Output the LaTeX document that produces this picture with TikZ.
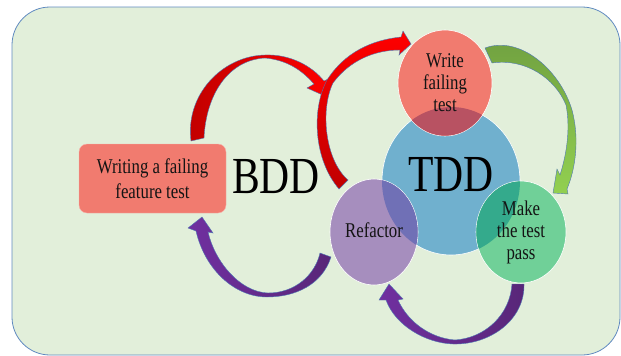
\documentclass[tikz,border=0pt]{standalone}
\usepackage{fontspec}
\setmainfont{Liberation Serif}[FakeStretch=0.8]
\usetikzlibrary{shapes.geometric}
\definecolor{bgfill}{RGB}{226,239,218}
\definecolor{bgline}{RGB}{96,138,192}
\definecolor{salmon}{RGB}{241,123,111}
\definecolor{tddblue}{RGB}{112,176,206}
\definecolor{refpurple}{RGB}{166,142,190}
\definecolor{passgreen}{RGB}{112,208,152}
\definecolor{redblue}{RGB}{184,82,98}
\definecolor{purpleblue}{RGB}{112,112,182}
\definecolor{greenblue}{RGB}{52,170,140}
\definecolor{arrowline}{RGB}{80,120,180}
\definecolor{redtail}{RGB}{192,0,0}
\definecolor{redhead}{RGB}{255,0,0}
\definecolor{greentail}{RGB}{112,160,64}
\definecolor{greenhead}{RGB}{146,208,80}
\definecolor{purpletail}{RGB}{88,38,120}
\definecolor{purplehead}{RGB}{112,48,160}
\definecolor{inktext}{RGB}{20,20,20}

\begin{document}
\begin{tikzpicture}[x=1pt,y=-1pt,
	steptext/.style={align=center,text=inktext,font=\fontsize{21}{22}\selectfont},
	bigtext/.style={text=black,font=\fontsize{52}{52}\selectfont},
	ring/.style={ellipse,draw=white,line width=.6pt,inner sep=0pt},
	flow/.style={draw=arrowline,line width=.4pt}]
\useasboundingbox (0,0) rectangle (621,356);
\begin{scope}
	\clip (0,0) rectangle (621,356);
	\draw[bgline,fill=bgfill,line width=.8pt,rounded corners=38pt] (12,7) rectangle (620,355);
\end{scope}

% outer BDD loop
\path[flow,left color=redtail,right color=redhead]
	(191,141) .. controls (185,95) and (222,56) .. (265,55)
	.. controls (290,54) and (312,66) .. (324,81)
	-- (332,77) -- (327,97) -- (307,88) -- (314,84)
	.. controls (300,68) and (285,60) .. (265,58)
	.. controls (228,60) and (206,95) .. (204,138) -- cycle;
\path[flow,left color=purplehead,right color=purpletail]
	(331,257) .. controls (322,285) and (295,297) .. (267,297)
	.. controls (235,297) and (205,270) .. (196,231)
	-- (188,228) -- (202,217) -- (213,233) -- (208,232)
	.. controls (215,262) and (240,292) .. (268,293)
	.. controls (295,293) and (315,275) .. (320,253) -- cycle;

% inner TDD loop
\path[flow,top color=redhead,bottom color=redtail]
	(339,189) .. controls (314,160) and (311,110) .. (327,80)
	.. controls (345,52) and (372,40) .. (401,37)
	-- (403,31) -- (411,44) -- (399,55) -- (400,50)
	.. controls (375,50) and (350,60) .. (333,83)
	.. controls (320,110) and (325,160) .. (348,180) -- cycle;
\path[flow,top color=greentail,bottom color=greenhead]
	(485,48) .. controls (520,35) and (560,70) .. (572,110)
	.. controls (580,140) and (575,170) .. (567,189)
	-- (568,194) -- (553,193) -- (557,169) -- (560,175)
	.. controls (568,150) and (570,125) .. (566,105)
	.. controls (555,78) and (525,58) .. (492,63) -- cycle;
\path[flow,left color=purplehead,right color=purpletail]
	(524,284) .. controls (525,320) and (490,345) .. (453,344)
	.. controls (425,343) and (395,325) .. (386,300)
	-- (379,300) -- (389,284) -- (403,299) -- (398,300)
	.. controls (408,322) and (430,338) .. (455,340)
	.. controls (485,338) and (510,315) .. (512,284) -- cycle;

\node[draw=salmon!60!white,fill=salmon,rounded corners=8pt,minimum width=147pt,minimum height=69pt] (feat) at (152.5,178.5) {};
\node[bigtext] (bdd) at (276,177) {BDD};

\node[ring,fill=tddblue,minimum width=138pt,minimum height=148pt] (tdd) at (451,181) {};
\node[ring,fill=salmon,minimum width=94pt,minimum height=106pt] (write) at (445,83) {};
\node[ring,fill=passgreen,minimum width=90pt,minimum height=102pt] (pass) at (521,232) {};
\node[ring,fill=refpurple,minimum width=88pt,minimum height=106pt] (refac) at (374,232) {};
\begin{scope}
	\clip (tdd.center) ellipse [x radius=69pt,y radius=74pt];
	\fill[redblue] (write.center) ellipse [x radius=46.7pt,y radius=52.7pt];
	\fill[greenblue] (pass.center) ellipse [x radius=44.7pt,y radius=50.7pt];
	\fill[purpleblue] (refac.center) ellipse [x radius=43.7pt,y radius=52.7pt];
\end{scope}

\node[bigtext] (tddtxt) at (451,175) {TDD};
\node[steptext,font=\fontsize{21}{25}\selectfont] (feattxt) at (feat.center) {Writing a failing\\feature test};
\node[steptext] (writetxt) at (write.center) {Write\\failing\\test};
\node[steptext] (passtxt) at (pass.center) {Make\\the test\\pass};
\node[steptext] (refactxt) at (374,230) {Refactor};
\end{tikzpicture}
\end{document}
